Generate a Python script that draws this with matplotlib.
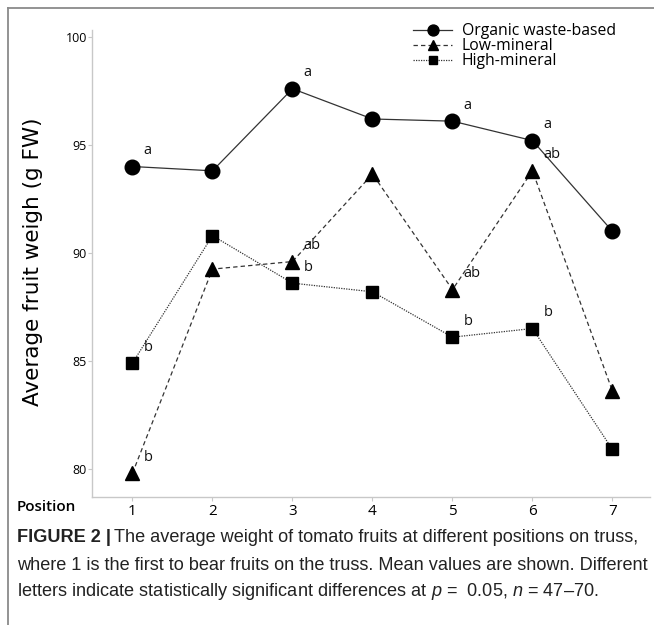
import numpy as np
import matplotlib
matplotlib.use("Agg")
import matplotlib.pyplot as plt
from matplotlib.lines import Line2D

# ---- data ----
positions = [1, 2, 3, 4, 5, 6, 7]
organic = [94.0, 93.8, 97.6, 96.2, 96.1, 95.2, 91.0]
low_mineral = [79.8, 89.25, 89.6, 93.65, 88.3, 93.8, 83.6]
high_mineral = [84.9, 90.8, 88.6, 88.2, 86.1, 86.5, 80.9]

organic_letters = ["a", "", "a", "", "a", "a", ""]
low_letters = ["b", "", "ab", "", "ab", "ab", ""]
high_letters = ["b", "", "b", "", "b", "b", ""]

yticks = [80, 85, 90, 95, 100]

# ---- figure ----
fig = plt.figure(figsize=(6.54, 6.25), dpi=100)
ax = fig.add_axes([0.1414, 0.2048, 0.8526, 0.7472])

line_col = "#333333"
series = [
    (organic, "-", "o", 10.5, "Organic waste-based", organic_letters),
    (low_mineral, (0, (3.5, 2.5)), "^", 10, "Low-mineral", low_letters),
    (high_mineral, (0, (1, 1)), "s", 8.5, "High-mineral", high_letters),
]
for vals, ls, mk, ms, lab, letters in series:
    ax.plot(positions, vals, linestyle=ls, color=line_col, lw=0.9,
            marker=mk, ms=ms, mfc="black", mec="black", label=lab)
    for x, y, t in zip(positions, vals, letters):
        if t:
            ax.annotate(t, (x, y), xytext=(11, 16), textcoords="offset pixels",
                        ha="left", va="center", fontsize=10.5,
                        family="Open Sans", color="#111111")

ax.set_xlim(0.5, 7.47)
ax.set_ylim(78.7, 100.32)
ax.set_xticks(positions)
ax.set_yticks(yticks)
ax.tick_params(axis="x", length=3, color="#c8c8c8", labelsize=11, pad=2)
ax.tick_params(axis="y", length=3, color="#c8c8c8", labelsize=9, pad=1)
for lab in ax.get_xticklabels() + ax.get_yticklabels():
    lab.set_family("Open Sans")
for side in ["top", "right"]:
    ax.spines[side].set_visible(False)
for side in ["left", "bottom"]:
    ax.spines[side].set_color("#c8c8c8")
    ax.spines[side].set_linewidth(1.0)

ax.set_ylabel("Average fruit weigh (g FW)", fontsize=15.5, family="DejaVu Sans")
ax.yaxis.set_label_coords(-0.088, 0.504)

fig.text(17 / 654, 1 - 507 / 625, "Position", fontsize=11, family="Open Sans",
         weight="semibold", va="center", ha="left")

leg = ax.legend(loc="upper left", bbox_to_anchor=(413 / 654, 1 - 23 / 625),
                bbox_transform=fig.transFigure, frameon=False,
                prop={"family": "Open Sans", "size": 11.3},
                handlelength=2.5, handletextpad=0.6, labelspacing=-0.05,
                borderpad=0, borderaxespad=0, markerscale=0.75)

# ---- outer frame (top and left edges) ----
frame_kw = dict(color="#8a8a8a", lw=1.3, transform=fig.transFigure)
fig.add_artist(Line2D([8 / 654, 1], [1 - 8 / 625, 1 - 8 / 625], **frame_kw))
fig.add_artist(Line2D([8 / 654, 8 / 654], [0, 1 - 8 / 625], **frame_kw))

# ---- caption ----
plt.rcParams["mathtext.fontset"] = "custom"
plt.rcParams["mathtext.it"] = "Liberation Sans:italic"
plt.rcParams["mathtext.rm"] = "Liberation Sans"
cap_kw = dict(family="Liberation Sans", fontsize=13.1, color="#222222", va="center")
x0 = 17 / 654
bold = fig.text(x0, 1 - 538 / 625, "FIGURE 2 |", weight="bold", **cap_kw)
fig.canvas.draw()
bb = bold.get_window_extent(renderer=fig.canvas.get_renderer())
fig.text(bb.x1 / fig.bbox.width + 3 / 654, 1 - 538 / 625,
         "The average weight of tomato fruits at different positions on truss,",
         **cap_kw)
fig.text(x0, 1 - 565 / 625,
         "where 1 is the first to bear fruits on the truss. Mean values are shown. Different",
         **cap_kw)
fig.text(x0, 1 - 592 / 625,
         r"letters indicate statistically significant differences at $p$ =  0.05, $n$ = 47–70.",
         **cap_kw)

fig.savefig("out.png", dpi=100)
